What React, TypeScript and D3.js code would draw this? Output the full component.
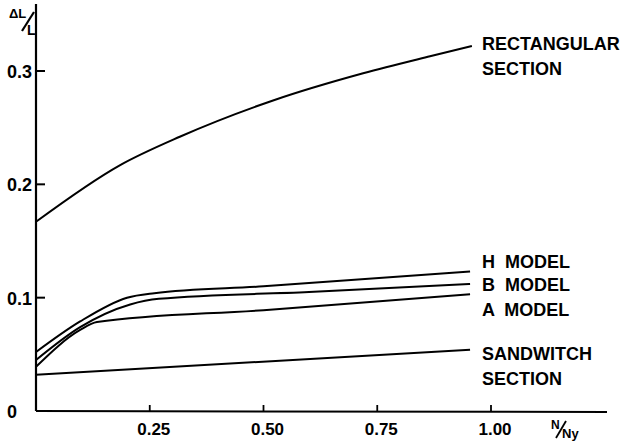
import React, { useRef, useEffect } from "react";
import * as d3 from "d3";

type Pt = [number, number];

const rectangular: Pt[] = [
  [0, 0.167], [0.185, 0.217], [0.316, 0.242], [0.521, 0.274],
  [0.719, 0.298], [0.866, 0.313], [0.958, 0.322],
];
const hModel: Pt[] = [[0, 0.052], [0.097, 0.079], [0.2, 0.1], [0.26, 0.104], [0.5, 0.11], [0.954, 0.123]];
const bModel: Pt[] = [[0, 0.045], [0.097, 0.074], [0.207, 0.094], [0.27, 0.099], [0.6, 0.105], [0.954, 0.112]];
const aModel: Pt[] = [[0, 0.039], [0.097, 0.0715], [0.134, 0.0785], [0.5, 0.089], [0.954, 0.103]];
const sandwitch: Pt[] = [[0, 0.032], [0.954, 0.054]];

const series = [rectangular, hModel, bModel, aModel, sandwitch];
const seriesLabels = [
  ["RECTANGULAR", "SECTION"],
  ["H  MODEL"],
  ["B  MODEL"],
  ["A  MODEL"],
  ["SANDWITCH", "SECTION"],
];
const labelBaselines = [50, 268, 291, 316, 360];

const xTicks = [0.25, 0.5, 0.75, 1.0];
const xTickLabels = ["0.25", "0.50", "0.75", "1.00"];
const yTicks = [0, 0.1, 0.2, 0.3];
const yTickLabels = ["0", "0.1", "0.2", "0.3"];

const App = () => {
  const ref = useRef<SVGSVGElement>(null);

  useEffect(() => {
    const svg = d3.select(ref.current);
    svg.selectAll("*").remove();
    const font = "'Liberation Sans', Arial, sans-serif";

    const x = d3.scaleLinear().domain([0, 1]).range([36, 491]);
    const y = d3.scaleLinear().domain([0, 0.3]).range([411, 71]);

    // axes
    svg.append("line").attr("x1", x(0)).attr("x2", x(0)).attr("y1", 4).attr("y2", y(0))
      .attr("stroke", "#000").attr("stroke-width", 2.2);
    svg.append("line").attr("x1", x(0)).attr("x2", 607).attr("y1", y(0)).attr("y2", y(0) + 1)
      .attr("stroke", "#000").attr("stroke-width", 2);

    yTicks.forEach((t, i) => {
      if (t > 0) {
        svg.append("line").attr("x1", x(0)).attr("x2", x(0) + 9).attr("y1", y(t)).attr("y2", y(t))
          .attr("stroke", "#000").attr("stroke-width", 2);
      }
      svg.append("text").attr("x", 7).attr("y", y(t) + 7)
        .style("font-family", font).style("font-weight", 700).style("font-size", "18px")
        .text(yTickLabels[i]);
    });

    xTicks.forEach((t, i) => {
      svg.append("line").attr("x1", x(t)).attr("x2", x(t)).attr("y1", y(0)).attr("y2", y(0) - 6)
        .attr("stroke", "#000").attr("stroke-width", 1.8);
      svg.append("text").attr("x", x(t) + 4).attr("y", 435).attr("text-anchor", "middle")
        .style("font-family", font).style("font-weight", 700).style("font-size", "17px")
        .text(xTickLabels[i]);
    });

    // axis titles
    svg.append("text").attr("x", 9).attr("y", 18)
      .style("font-family", font).style("font-weight", 700).style("font-size", "13px").text("ΔL");
    svg.append("line").attr("x1", 22).attr("y1", 31).attr("x2", 34).attr("y2", 12)
      .attr("stroke", "#000").attr("stroke-width", 2.2);
    svg.append("text").attr("x", 27).attr("y", 35)
      .style("font-family", font).style("font-weight", 700).style("font-size", "14px").text("L");

    svg.append("text").attr("x", 551).attr("y", 429)
      .style("font-family", font).style("font-weight", 700).style("font-size", "12px").text("N");
    svg.append("line").attr("x1", 556).attr("y1", 438).attr("x2", 566).attr("y2", 421)
      .attr("stroke", "#000").attr("stroke-width", 1.8);
    svg.append("text").attr("x", 562).attr("y", 438)
      .style("font-family", font).style("font-weight", 700).style("font-size", "13px").text("Ny");

    const line = d3.line<Pt>()
      .x((d) => x(d[0]))
      .y((d) => y(d[1]))
      .curve(d3.curveMonotoneX);

    series.forEach((s) => {
      svg.append("path").attr("d", line(s)).attr("fill", "none")
        .attr("stroke", "#000").attr("stroke-width", 2);
    });

    seriesLabels.forEach((lines, i) => {
      lines.forEach((l, j) => {
        svg.append("text").attr("x", 482).attr("y", labelBaselines[i] + j * 25)
          .style("font-family", font).style("font-weight", 700).style("font-size", "18px")
          .style("white-space", "pre")
          .text(l);
      });
    });
  }, []);

  return (
    <svg
      ref={ref}
      width={621}
      height={444}
      style={{ position: "absolute", left: 0, top: 0, background: "#fff" }}
    />
  );
};

export default App;
